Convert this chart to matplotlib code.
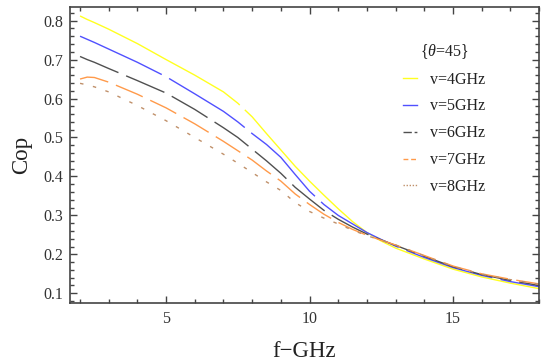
import matplotlib
matplotlib.use("Agg")
import matplotlib.pyplot as plt
from matplotlib.lines import Line2D
from matplotlib.ticker import MultipleLocator

plt.rcParams['font.family'] = ['Liberation Serif', 'DejaVu Serif']
plt.rcParams['mathtext.fontset'] = 'custom'
plt.rcParams['mathtext.rm'] = 'Liberation Serif'
plt.rcParams['mathtext.it'] = 'Liberation Serif:italic'
plt.rcParams['lines.scale_dashes'] = False

freq = [2, 2.25, 2.5, 3, 4, 5, 6, 7, 7.5, 8, 8.5, 9, 9.5, 10, 10.5, 11, 11.5, 12, 12.5, 13, 14, 15, 16, 17, 18]
cop_v4 = [0.812, 0.803, 0.795, 0.778, 0.741, 0.700, 0.660, 0.617, 0.588, 0.553, 0.510, 0.468, 0.426, 0.388,
          0.352, 0.317, 0.284, 0.256, 0.234, 0.216, 0.188, 0.162, 0.142, 0.126, 0.112]
cop_v5 = [0.760, 0.752, 0.744, 0.727, 0.693, 0.656, 0.612, 0.567, 0.540, 0.510, 0.482, 0.449, 0.405, 0.362,
          0.328, 0.300, 0.278, 0.256, 0.238, 0.221, 0.192, 0.166, 0.146, 0.130, 0.117]
cop_v6 = [0.708, 0.700, 0.693, 0.677, 0.646, 0.614, 0.572, 0.525, 0.500, 0.470, 0.440, 0.408, 0.372, 0.342,
          0.313, 0.290, 0.270, 0.252, 0.237, 0.223, 0.195, 0.168, 0.148, 0.133, 0.120]
cop_v7 = [0.650, 0.655, 0.654, 0.642, 0.611, 0.576, 0.535, 0.490, 0.466, 0.442, 0.414, 0.388, 0.355, 0.328,
          0.303, 0.282, 0.264, 0.249, 0.236, 0.224, 0.197, 0.170, 0.150, 0.136, 0.124]
cop_v8 = [0.639, 0.635, 0.630, 0.617, 0.582, 0.543, 0.500, 0.457, 0.434, 0.410, 0.386, 0.364, 0.333, 0.310,
          0.293, 0.278, 0.262, 0.248, 0.236, 0.224, 0.196, 0.169, 0.149, 0.135, 0.123]

labels = ["v=4GHz", "v=5GHz", "v=6GHz", "v=7GHz", "v=8GHz"]
series = [cop_v4, cop_v5, cop_v6, cop_v7, cop_v8]
colors = ["#ffff20", "#5050ff", "#505050", "#ff9a4a", "#c0906a"]
dashes = [(132, 5, 400, 5), (65, 6), (30, 6), (21, 6), (2.5, 7)]
legend_dashes = [None, None, (6, 2, 2, 2), (3.5, 2), (1, 1.2)]

fig = plt.figure(figsize=(5.43, 3.63), dpi=100)
ax = fig.add_axes([70/543, 1 - 303/363, 469/543, 296/363])

for ys, c, d in zip(series, colors, dashes):
    ln, = ax.plot(freq, ys, color=c, lw=1.0)
    if d is not None:
        ln.set_dashes(d)

ax.set_xlim(1.65, 18.0)
ax.set_ylim(0.075, 0.835)
ax.xaxis.set_major_locator(MultipleLocator(5))
ax.xaxis.set_minor_locator(MultipleLocator(1))
ax.yaxis.set_major_locator(MultipleLocator(0.1))
ax.yaxis.set_minor_locator(MultipleLocator(0.02))
ax.tick_params(which='both', direction='in', top=True, right=True, color='#444444', width=1.0,
               labelsize=11.5, labelcolor='#333333')
ax.tick_params(which='major', length=5)
ax.tick_params(axis='x', which='major', pad=6)
ax.tick_params(axis='y', which='major', pad=5)
ax.tick_params(which='minor', length=3)
for s in ax.spines.values():
    s.set_color('#444444')
    s.set_linewidth(1.2)

ax.set_xlabel("f\u2212GHz", fontsize=16.5, color='#222222', labelpad=10)
ax.set_ylabel("Cop", fontsize=16.5, color='#222222', labelpad=8)

handles = []
for c, d in zip(colors, legend_dashes):
    h = Line2D([], [], color=c, lw=1.0)
    if d is not None:
        h.set_dashes(d)
    handles.append(h)
leg = ax.legend(handles, labels, title=r"{$\theta$=45}", loc='upper left',
                bbox_to_anchor=(395/543, 1 - 34/363), bbox_transform=fig.transFigure,
                frameon=False, fontsize=11.5, title_fontsize=11.5, handlelength=0.85,
                handletextpad=0.85, labelspacing=0.68, borderpad=0)
for t in leg.get_texts():
    t.set_color('#222222')
leg.get_title().set_color('#222222')

fig.savefig("out.png", dpi=100)
